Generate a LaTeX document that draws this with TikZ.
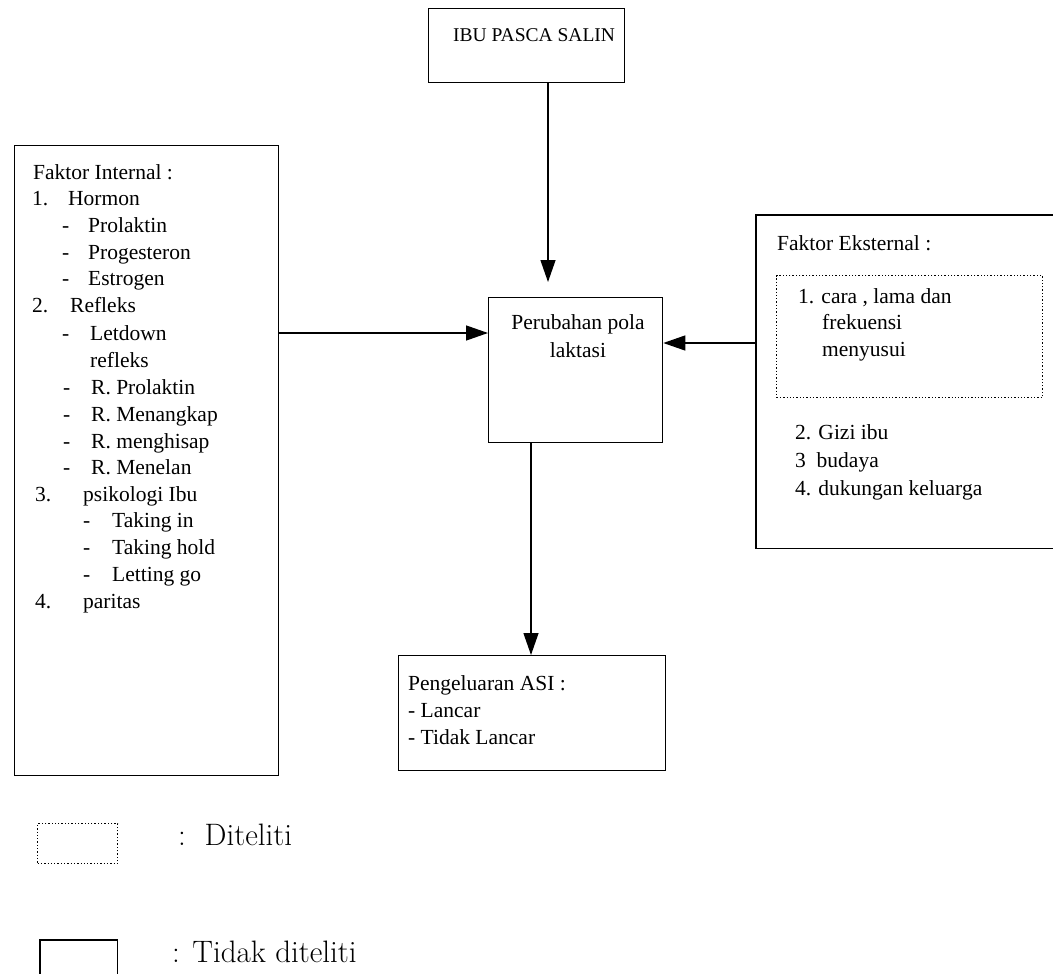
\documentclass[tikz,border=0pt]{standalone}
\usepackage{fontspec}
\newfontfamily\tnr{Liberation Serif}
\usetikzlibrary{arrows.meta}
\tikzset{
  box/.style={draw, line width=1.3pt, inner sep=0pt, anchor=north west},
  openbox/.style={inner sep=0pt, anchor=north west},
  dotbox/.style={draw, dotted, line width=1.3pt, inner sep=0pt, anchor=north west},
  arr/.style={line width=1.3pt, -{Triangle[width=15pt,length=22pt]}},
  txt/.style={anchor=base west, inner sep=0pt, yshift=-7pt, font=\tnr\fontsize{21.5}{26}\selectfont},
  ctxt/.style={anchor=base, inner sep=0pt, yshift=-7pt, font=\tnr\fontsize{21.5}{26}\selectfont},
  ttxt/.style={anchor=base west, inner sep=0pt, yshift=-7pt, font=\tnr\fontsize{19.5}{24}\selectfont},
  lgtxt/.style={anchor=base west, inner sep=0pt, yshift=-10pt, font=\fontsize{31}{36}\selectfont}
}
\begin{document}
\begin{tikzpicture}[x=1pt, y=-1pt]
\useasboundingbox (0,0) rectangle (1053,974);
% boxes
\node[box, minimum width=196pt, minimum height=74pt] (ibu) at (428,8) {};
\node[ttxt] (ibut) at (453,35) {IBU PASCA SALIN};
\node[box, minimum width=174pt, minimum height=145pt] (per) at (488,297) {};
\node[ctxt] (pert1) at (578,322) {Perubahan pola};
\node[ctxt] (pert2) at (578,350) {laktasi};
\node[box, minimum width=267pt, minimum height=115pt] (asi) at (398,655) {};
\node[txt] (asi1) at (408,683) {Pengeluaran ASI :};
\node[txt] (asi2) at (408,710) {- Lancar};
\node[txt] (asi3) at (408,737) {- Tidak Lancar};
% internal factors
\node[box, minimum width=264pt, minimum height=630pt] (intl) at (14,145) {};
\node[txt] (i0) at (33,172) {Faktor Internal :};
\node[txt] (i1a) at (32,198) {1.};
\node[txt] (i1b) at (68,198) {Hormon};
\node[txt] (i2a) at (62,225) {-};
\node[txt] (i2b) at (88,225) {Prolaktin};
\node[txt] (i3a) at (62,252) {-};
\node[txt] (i3b) at (88,252) {Progesteron};
\node[txt] (i4a) at (62,278) {-};
\node[txt] (i4b) at (88,278) {Estrogen};
\node[txt] (i5a) at (32,305) {2.};
\node[txt] (i5b) at (70,305) {Refleks};
\node[txt] (i6a) at (62,333) {-};
\node[txt] (i6b) at (90,333) {Letdown};
\node[txt] (i7b) at (90,360) {refleks};
\node[txt] (i8a) at (63,387) {-};
\node[txt] (i8b) at (91,387) {R. Prolaktin};
\node[txt] (i9a) at (63,414) {-};
\node[txt] (i9b) at (91,414) {R. Menangkap};
\node[txt] (i10a) at (63,441) {-};
\node[txt] (i10b) at (91,441) {R. menghisap};
\node[txt] (i11a) at (63,467) {-};
\node[txt] (i11b) at (91,467) {R. Menelan};
\node[txt] (i12a) at (35,494) {3.};
\node[txt] (i12b) at (83,494) {psikologi Ibu};
\node[txt] (i13a) at (83,520) {-};
\node[txt] (i13b) at (112,520) {Taking in};
\node[txt] (i14a) at (83,547) {-};
\node[txt] (i14b) at (112,547) {Taking hold};
\node[txt] (i15a) at (83,574) {-};
\node[txt] (i15b) at (112,574) {Letting go};
\node[txt] (i16a) at (35,601) {4.};
\node[txt] (i16b) at (83,601) {paritas};
% external factors
\node[openbox, minimum width=300pt, minimum height=333pt] (ext) at (756,215) {};
\draw[line width=1.3pt] (ext.north east) -- (ext.north west) -- (ext.south west) -- (ext.south east);
\node[txt] (e0) at (777,243) {Faktor Eksternal :};
\node[dotbox, minimum width=266pt, minimum height=122pt] (dot) at (776,275) {};
\node[txt] (e1) at (798,296) {1. cara , lama dan};
\node[txt] (e2) at (822,322) {frekuensi};
\node[txt] (e3) at (822,349) {menyusui};
\node[txt] (e4) at (795,432) {2. Gizi ibu};
\node[txt] (e5) at (795,460) {3\ \ budaya};
\node[txt] (e6) at (795,488) {4. dukungan keluarga};
% connectors
\coordinate (ly) at (0,333);
\coordinate (ry) at (0,343);
\draw[arr, shorten >=15pt] (ibu.south -| 548,0) -- (per.north -| 548,0);
\draw[arr] (intl.east |- ly) -- (per.west |- ly);
\draw[arr] (ext.west |- ry) -- (per.east |- ry);
\draw[arr] (per.south -| 531,0) -- (asi.north -| 531,0);
% legend
\node[dotbox, minimum width=80pt, minimum height=40pt] (lg1) at (37,823) {};
\node[lgtxt] (lg1t) at (178,835) {:\ \ Diteliti};
\node[openbox, minimum width=77pt, minimum height=40pt] (lg2) at (40,940) {};
\draw[line width=1.3pt] (lg2.south west) -- (lg2.north west) -- (lg2.north east) -- (lg2.south east);
\node[lgtxt] (lg2t) at (172,952) {: Tidak diteliti};
\end{tikzpicture}
\end{document}
